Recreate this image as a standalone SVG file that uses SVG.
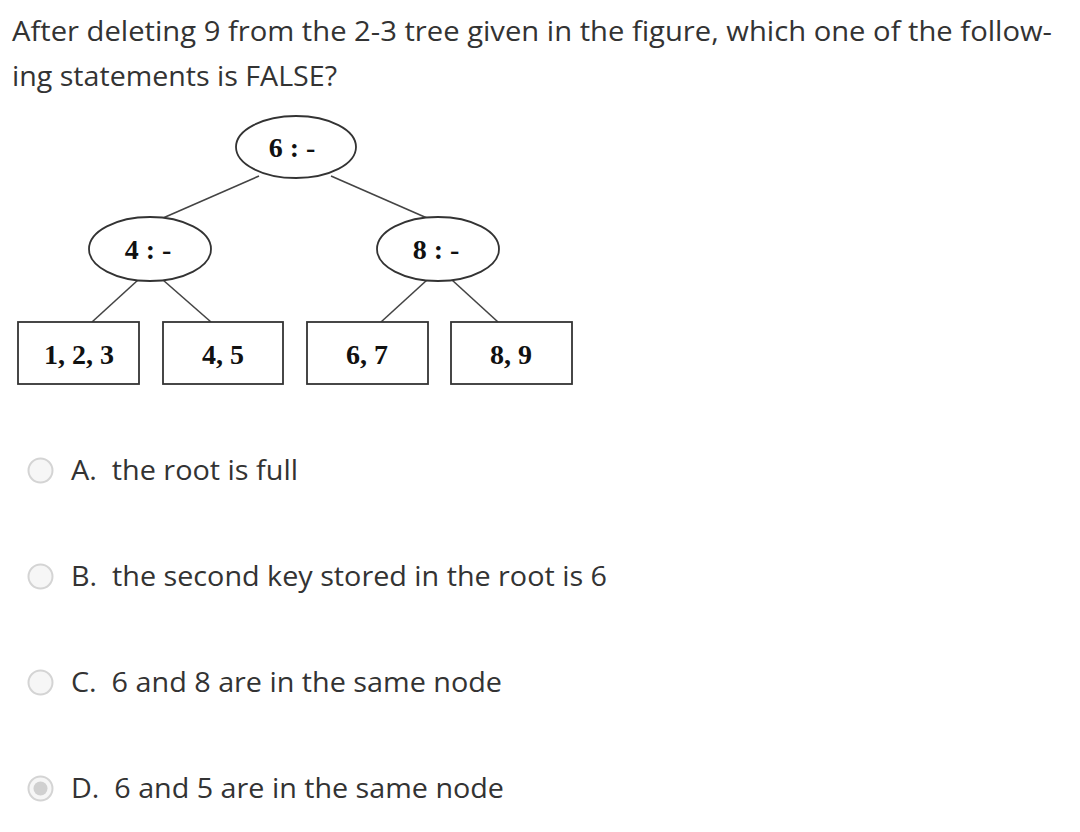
<svg xmlns="http://www.w3.org/2000/svg" width="1080" height="832" viewBox="0 0 1080 832">
<style>
.q{font-family:"Segoe UI","Open Sans","Noto Sans","Liberation Sans",sans-serif;font-size:27px;fill:#333;white-space:pre}
.t{font-family:"Liberation Serif","Times New Roman",serif;font-weight:bold;font-size:28px;fill:#111;text-anchor:middle}
.n{fill:#fff;stroke:#333;stroke-width:1.8}
.e{stroke:#444;stroke-width:1.6;fill:none}
.r{fill:#f6f6f6;stroke:#d4d4d4;stroke-width:2}
</style>
<rect width="1080" height="832" fill="#fff"/>
<text class="q" x="12" y="41" textLength="1040" lengthAdjust="spacingAndGlyphs">After deleting 9 from the 2-3 tree given in the figure, which one of the follow-</text>
<text class="q" x="12" y="86" textLength="325" lengthAdjust="spacingAndGlyphs">ing statements is FALSE?</text>
<g id="connectors">
<line class="e" x1="259" y1="176" x2="163" y2="218"/>
<line class="e" x1="331" y1="176" x2="427" y2="218"/>
<line class="e" x1="138" y1="280" x2="92" y2="322"/>
<line class="e" x1="163" y1="280" x2="211" y2="322"/>
<line class="e" x1="427" y1="280" x2="381" y2="322"/>
<line class="e" x1="452" y1="280" x2="498" y2="322"/>
</g>
<g id="root"><ellipse class="n" cx="296" cy="147" rx="60" ry="31"/><text class="t" x="292" y="157">6 : -</text></g>
<g id="left"><ellipse class="n" cx="150" cy="249" rx="61" ry="32"/><text class="t" x="148" y="259">4 : -</text></g>
<g id="right"><ellipse class="n" cx="438" cy="249" rx="61" ry="32"/><text class="t" x="436" y="259">8 : -</text></g>
<g id="leaf1"><rect class="n" x="18" y="322" width="121" height="62"/><text class="t" x="79" y="364">1, 2, 3</text></g>
<g id="leaf2"><rect class="n" x="163" y="322" width="120" height="62"/><text class="t" x="223" y="364">4, 5</text></g>
<g id="leaf3"><rect class="n" x="307" y="322" width="121" height="62"/><text class="t" x="367" y="364">6, 7</text></g>
<g id="leaf4"><rect class="n" x="451" y="322" width="121" height="62"/><text class="t" x="511" y="364">8, 9</text></g>
<g id="optA"><circle class="r" cx="40.5" cy="470.5" r="12"/><text class="q" x="71" y="480" textLength="227" lengthAdjust="spacingAndGlyphs">A.  the root is full</text></g>
<g id="optB"><circle class="r" cx="40.5" cy="576.5" r="12"/><text class="q" x="71" y="586" textLength="536" lengthAdjust="spacingAndGlyphs">B.  the second key stored in the root is 6</text></g>
<g id="optC"><circle class="r" cx="40.5" cy="682.5" r="12"/><text class="q" x="71" y="692" textLength="431" lengthAdjust="spacingAndGlyphs">C.  6 and 8 are in the same node</text></g>
<g id="optD"><circle class="r" cx="40.5" cy="788.5" r="12"/><circle cx="40.5" cy="788.5" r="7" fill="#d0d0d0"/><text class="q" x="71" y="798" textLength="433" lengthAdjust="spacingAndGlyphs">D.  6 and 5 are in the same node</text></g>
</svg>
